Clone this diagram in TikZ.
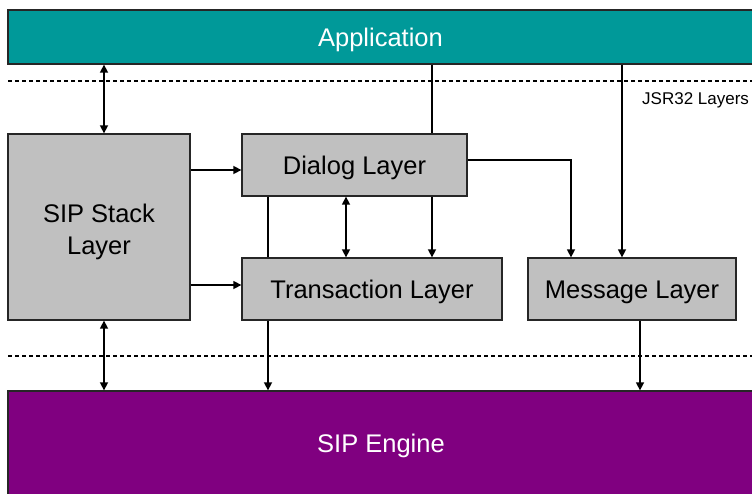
\documentclass[tikz,border=0pt]{standalone}
\usepackage{fontspec}
\setmainfont{Liberation Sans}
\usetikzlibrary{arrows.meta}

\definecolor{appteal}{HTML}{009999}
\definecolor{engpurple}{HTML}{800080}
\definecolor{layergray}{HTML}{C0C0C0}

\begin{document}
\begin{tikzpicture}[x=1pt,y=-1pt,
  big/.style={font=\fontsize{25.5}{32}\selectfont, text height=18.3pt, text depth=0pt},
  layerbox/.style={draw=black!85, line width=1.3pt, fill=layergray, big,
                   rectangle, inner sep=0pt, align=center},
  barbox/.style={draw=black!85, line width=1.3pt, rectangle, inner sep=0pt,
                 text=white, big},
  conn/.style={line width=1.5pt, draw=black},
  tip/.style={-{Triangle[length=8pt,width=8pt]}},
  both/.style={{Triangle[length=8pt,width=8pt]}-{Triangle[length=8pt,width=8pt]}},
  sep/.style={line width=1.1pt, dash pattern=on 4pt off 3pt}
]
\useasboundingbox (0,0) rectangle (752,493);

% top and bottom bars
\node[barbox, fill=appteal, minimum width=745pt, minimum height=54pt]
  (app) at (380.5,37) {Application};
\node[barbox, fill=engpurple, minimum width=745pt, minimum height=110pt]
  (eng) at (380.5,446) {};
\node[text=white, big, inner sep=0pt] (engtxt) at (381,443.5) {SIP Engine};

% layer boundaries
\coordinate (sepAl) at (8,81);
\coordinate (sepAr) at (752,81);
\coordinate (sepBl) at (8,356);
\coordinate (sepBr) at (752,356);
\draw[sep] (sepAl) -- (sepAr);
\draw[sep] (sepBl) -- (sepBr);
\node[anchor=west, font=\fontsize{17}{20}\selectfont, text height=12.2pt,
      text depth=0pt, inner sep=0pt]
  (jsr) at (642,98) {JSR32 Layers};

% layers
\node[layerbox, minimum width=182pt, minimum height=186pt, text height=54pt]
  (stack) at (99,227) {SIP Stack\\Layer};
\node[layerbox, minimum width=225pt, minimum height=62pt]
  (dialog) at (354.5,165) {Dialog Layer};
\node[layerbox, minimum width=260pt, minimum height=62pt]
  (trans) at (372,289) {Transaction Layer};
\node[layerbox, minimum width=208pt, minimum height=62pt]
  (msg) at (632,289) {Message Layer};

% connector columns and rows
\coordinate (cA) at (104,0);
\coordinate (cB) at (268,0);
\coordinate (cC) at (346,0);
\coordinate (cD) at (432,0);
\coordinate (cE) at (571,0);
\coordinate (cF) at (622,0);
\coordinate (cG) at (640,0);
\coordinate (rA) at (0,170);
\coordinate (rB) at (0,285);
\coordinate (rC) at (0,160);

% application <-> stack <-> engine
\draw[conn, both] (app.south -| cA) -- (stack.north -| cA);
\draw[conn, both] (stack.south -| cA) -- (eng.north -| cA);

% stack -> dialog / transaction
\draw[conn, tip] (stack.east |- rA) -- (dialog.west |- rA);
\draw[conn, tip] (stack.east |- rB) -- (trans.west |- rB);

% application -> dialog / message
\draw[conn] (app.south -| cD) -- (dialog.north -| cD);
\draw[conn, tip] (app.south -| cF) -- (msg.north -| cF);

% dialog -> transaction / message
\draw[conn] (dialog.south -| cB) -- (trans.north -| cB);
\draw[conn, both] (dialog.south -| cC) -- (trans.north -| cC);
\draw[conn, tip] (dialog.south -| cD) -- (trans.north -| cD);
\draw[conn, tip] (dialog.east |- rC) -| (msg.north -| cE);

% down to the engine
\draw[conn, tip] (trans.south -| cB) -- (eng.north -| cB);
\draw[conn, tip] (msg.south -| cG) -- (eng.north -| cG);
\end{tikzpicture}
\end{document}
